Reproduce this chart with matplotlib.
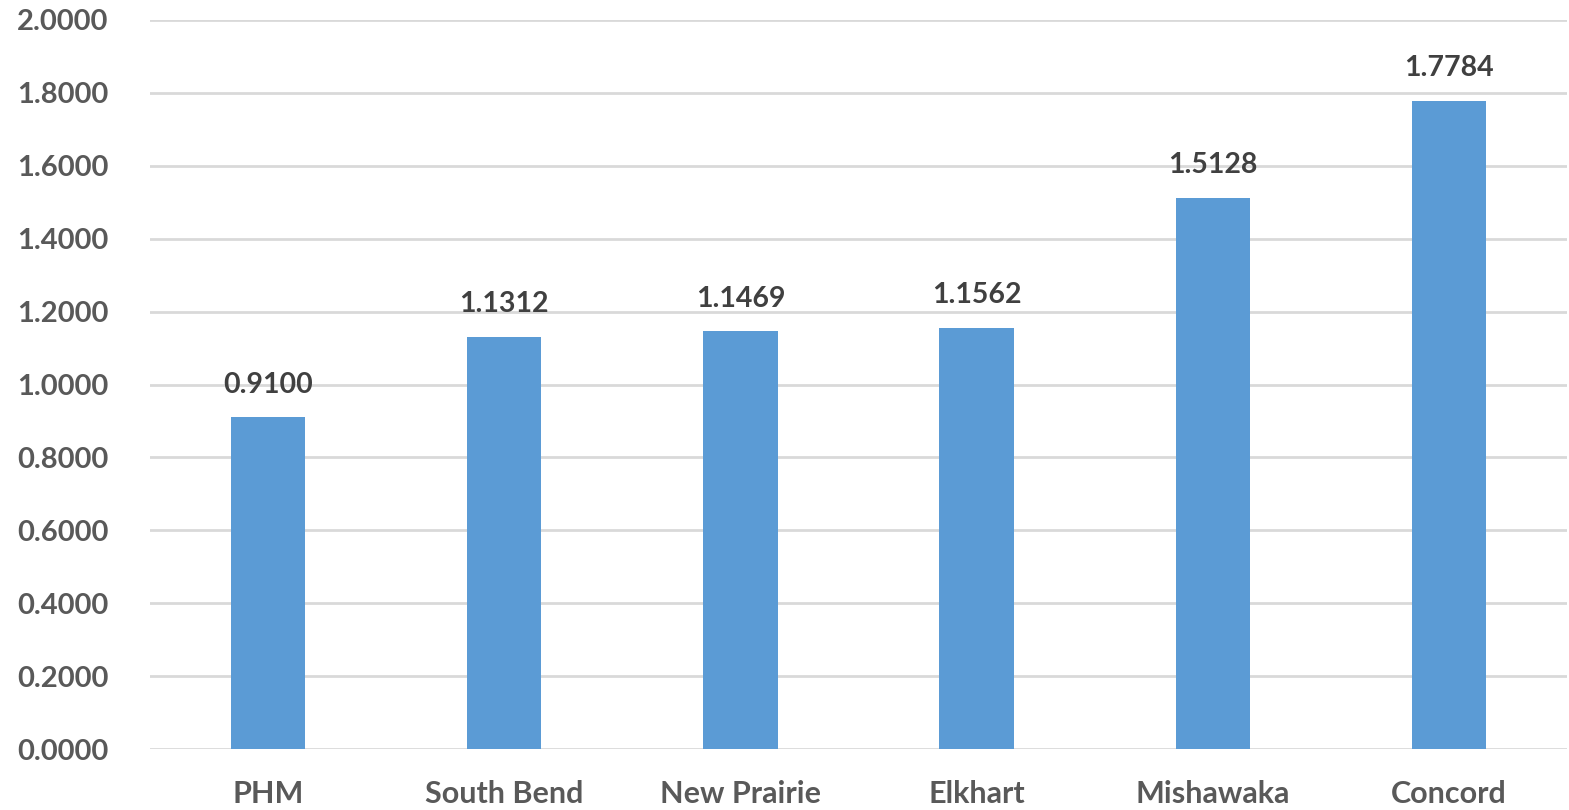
import matplotlib
matplotlib.use("Agg")
import matplotlib.pyplot as plt

categories = ["PHM", "South Bend", "New Prairie", "Elkhart", "Mishawaka", "Concord"]
values = [0.9100, 1.1312, 1.1469, 1.1562, 1.5128, 1.7784]
yticks = [0.0, 0.2, 0.4, 0.6, 0.8, 1.0, 1.2, 1.4, 1.6, 1.8, 2.0]

plt.rcParams['font.family'] = ['Lato', 'DejaVu Sans']

fig = plt.figure(figsize=(15.69, 8.10), dpi=100)
ax = fig.add_axes([150/1569, 1 - 749/810, 1417/1569, 729/810])

x = list(range(len(categories)))
bars = ax.bar(x, values, width=0.315, color="#5B9BD5", zorder=3)

ax.set_xlim(-0.5, len(categories) - 0.5)
ax.set_ylim(0, 2.0)
ax.set_yticks(yticks)
ax.set_yticklabels([f"{v:.4f}" for v in yticks])
ax.set_xticks(x)
ax.set_xticklabels(categories)

for tl in ax.get_yticklabels():
    tl.set_fontsize(21)
    tl.set_fontweight("bold")
    tl.set_color("#595959")
for tl in ax.get_xticklabels():
    tl.set_fontsize(22)
    tl.set_fontweight("bold")
    tl.set_color("#595959")

ax.tick_params(axis="y", length=0, pad=30)
ax.tick_params(axis="x", length=0, pad=22)
ax.grid(axis="y", color="#D9D9D9", linewidth=2, zorder=0)
for s in ax.spines.values():
    s.set_visible(False)

for xi, v in zip(x, values):
    ax.annotate(f"{v:.4f}", (xi, v), xytext=(0, 14), textcoords="offset points",
                ha="center", va="bottom", fontsize=20.5, fontweight="bold", color="#404040")

fig.savefig("out.png", dpi=100)
